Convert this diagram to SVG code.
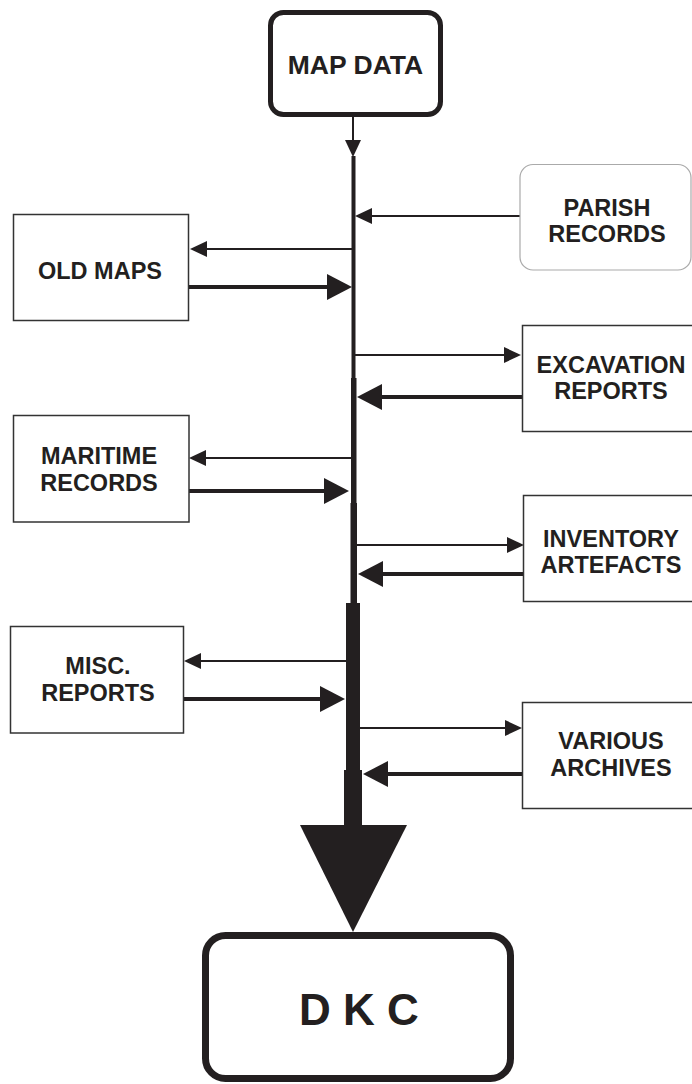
<svg xmlns="http://www.w3.org/2000/svg" width="692" height="1084" viewBox="0 0 692 1084">
<style>
.box{fill:#fff;stroke:#333;stroke-width:1.5}
.soft{fill:#fff;stroke:#aaa;stroke-width:1.2}
.heavy{fill:#fff;stroke:#231f20}
.lbl{font-family:"Liberation Sans",Arial,sans-serif;font-weight:bold;font-size:23.5px;fill:#231f20;text-anchor:middle}
.thin{stroke:#231f20;stroke-width:2;fill:none}
.thick{stroke:#231f20;stroke-width:4;fill:none}
.ink{fill:#231f20}
</style>
<defs>
<marker id="s" markerUnits="userSpaceOnUse" viewBox="0 0 17 16" refX="9" refY="8" markerWidth="17" markerHeight="16" orient="auto"><path d="M0,0 L17,8 L0,16 z" fill="#231f20"/></marker>
<marker id="l" markerUnits="userSpaceOnUse" viewBox="0 0 25 26" refX="13" refY="13" markerWidth="25" markerHeight="26" orient="auto"><path d="M0,0 L25,13 L0,26 z" fill="#231f20"/></marker>
</defs>
<rect width="692" height="1084" fill="#fff"/>

<g id="connectors">
<line class="thin" x1="353" y1="117" x2="353" y2="149" marker-end="url(#s)"/>
<rect class="ink" x="351.5" y="156" width="4" height="222"/>
<rect class="ink" x="351" y="378" width="5.5" height="125"/>
<rect class="ink" x="350.5" y="503" width="6.5" height="100"/>
<rect class="ink" x="346" y="603" width="14" height="167"/>
<rect class="ink" x="344" y="770" width="18" height="56"/>
<polygon class="ink" points="300,825 407,825 353,932"/>

<line class="thin" x1="520" y1="216" x2="363" y2="216" marker-end="url(#s)"/>
<line class="thin" x1="352" y1="249" x2="198" y2="249" marker-end="url(#s)"/>
<line class="thick" x1="188" y1="287" x2="340" y2="287" marker-end="url(#l)"/>
<line class="thin" x1="355" y1="355" x2="513" y2="355" marker-end="url(#s)"/>
<line class="thick" x1="522" y1="397" x2="369" y2="397" marker-end="url(#l)"/>
<line class="thin" x1="351" y1="458" x2="197" y2="458" marker-end="url(#s)"/>
<line class="thick" x1="189" y1="491" x2="337" y2="491" marker-end="url(#l)"/>
<line class="thin" x1="357" y1="545" x2="516" y2="545" marker-end="url(#s)"/>
<line class="thick" x1="524" y1="574" x2="370" y2="574" marker-end="url(#l)"/>
<line class="thin" x1="346" y1="661" x2="192" y2="661" marker-end="url(#s)"/>
<line class="thick" x1="183" y1="699" x2="333" y2="699" marker-end="url(#l)"/>
<line class="thin" x1="360" y1="728" x2="514" y2="728" marker-end="url(#s)"/>
<line class="thick" x1="522" y1="774" x2="375" y2="774" marker-end="url(#l)"/>
</g>

<g id="map-data">
<rect class="heavy" x="270.5" y="12.5" width="170" height="102" rx="13" stroke-width="5"/>
<text class="lbl" x="355.5" y="74" style="font-size:26.5px">MAP DATA</text>
</g>

<g id="parish-records">
<rect class="soft" x="520" y="164.5" width="171" height="105.5" rx="13"/>
<text class="lbl" x="607" y="216">PARISH</text>
<text class="lbl" x="607" y="242">RECORDS</text>
</g>

<g id="old-maps">
<rect class="box" x="13.5" y="214.5" width="175" height="106"/>
<text class="lbl" x="100" y="279">OLD MAPS</text>
</g>

<g id="excavation-reports">
<rect class="box" x="522.5" y="325.5" width="180" height="106"/>
<text class="lbl" x="611" y="373">EXCAVATION</text>
<text class="lbl" x="611" y="399">REPORTS</text>
</g>

<g id="maritime-records">
<rect class="box" x="13.5" y="415.5" width="175.5" height="106.5"/>
<text class="lbl" x="99" y="464">MARITIME</text>
<text class="lbl" x="99" y="491">RECORDS</text>
</g>

<g id="inventory-artefacts">
<rect class="box" x="523.5" y="495.5" width="180" height="106"/>
<text class="lbl" x="611" y="547">INVENTORY</text>
<text class="lbl" x="611" y="573">ARTEFACTS</text>
</g>

<g id="misc-reports">
<rect class="box" x="10.5" y="626.5" width="173" height="106.5"/>
<text class="lbl" x="98" y="674">MISC.</text>
<text class="lbl" x="98" y="701">REPORTS</text>
</g>

<g id="various-archives">
<rect class="box" x="522.5" y="702.5" width="180" height="106"/>
<text class="lbl" x="611" y="749">VARIOUS</text>
<text class="lbl" x="611" y="776">ARCHIVES</text>
</g>

<g id="dkc">
<rect class="heavy" x="205.5" y="935.5" width="305" height="143" rx="20" stroke-width="7"/>
<text class="lbl" x="359" y="1025" style="font-size:44px">D K C</text>
</g>
</svg>
